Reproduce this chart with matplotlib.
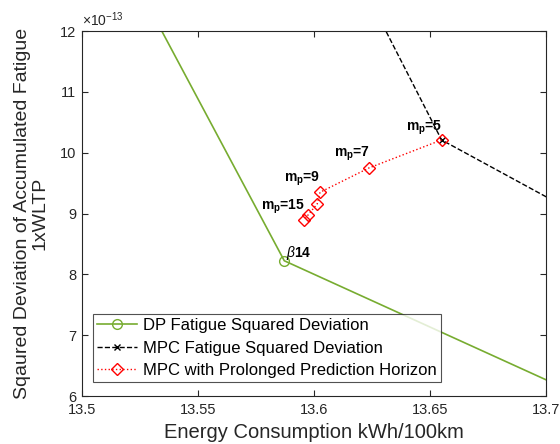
import matplotlib
matplotlib.use("Agg")
import matplotlib.pyplot as plt
import numpy as np

plt.rcParams['font.family'] = ['Liberation Sans', 'DejaVu Sans']
plt.rcParams['mathtext.fontset'] = 'custom'
plt.rcParams['mathtext.rm'] = 'Liberation Sans'
plt.rcParams['mathtext.it'] = 'Liberation Sans:italic'
plt.rcParams['mathtext.bf'] = 'Liberation Sans:bold'

# values in units of 1e-13
# DP fatigue squared deviation
dp_x = [13.52, 13.5872, 13.75]
dp_y = [13.03, 8.224, 5.40]
# MPC fatigue squared deviation
mpc_x = [13.62, 13.655, 13.75]
mpc_y = [12.82, 10.21, 8.24]
# MPC with prolonged prediction horizon (mp = 5, 7, 9, 11, 13, 15)
pro_x = [13.655, 13.6237, 13.6026, 13.6014, 13.5975, 13.5957]
pro_y = [10.21, 9.75, 9.35, 9.16, 8.98, 8.89]
labels = [r'$\mathbf{m_p}$=5', r'$\mathbf{m_p}$=7', r'$\mathbf{m_p}$=9', r'$\mathbf{m_p}$=15']
ytick_vals = [6, 7, 8, 9, 10, 11, 12]
xtick_vals = [13.5, 13.55, 13.6, 13.65, 13.7]
xtick_labels = ['13.5', '13.55', '13.6', '13.65', '13.7']

fig = plt.figure(figsize=(5.6, 4.44), dpi=100)
ax = fig.add_axes([0.1464, 0.108, 0.8286, 0.822])

green = '#77AC30'
ax.plot(dp_x, dp_y, '-o', color=green, lw=1.2, ms=7,
        mfc='none', mew=1.0, label='DP Fatigue Squared Deviation')
ax.plot(mpc_x, mpc_y, '--x', color='black', lw=1.0, ms=5,
        mew=1.0, label='MPC Fatigue Squared Deviation')
ax.plot(pro_x, pro_y, ':D', color='red', lw=1.0, ms=6,
        mfc='none', mew=1.0, label='MPC with Prolonged Prediction Horizon')

lab_pos = [(13.6395, 10.37), (13.6086, 9.93), (13.5872, 9.52), (13.5770, 9.06)]
for (tx, ty), s in zip(lab_pos, labels):
    ax.text(tx, ty, s, fontsize=10, fontweight='bold', ha='left', va='baseline')
ax.text(13.5879, 8.29, r'$\beta$14', fontsize=10, fontweight='bold', ha='left', va='baseline')

ax.set_xlim(13.5, 13.7)
ax.set_ylim(6, 12)
ax.set_xticks(xtick_vals)
ax.set_xticklabels(xtick_labels)
ax.set_yticks(ytick_vals)
ax.set_yticklabels([str(v) for v in ytick_vals])
ax.text(0.0, 1.005, r'$\times\mathregular{10^{-13}}$', transform=ax.transAxes,
        fontsize=10, color='#262626', ha='left', va='bottom')

ax.tick_params(direction='in', top=True, right=True, labelsize=10.5, colors='#262626', length=4)
ax.tick_params(axis='y', pad=4)
ax.tick_params(axis='x', pad=5)
for sp in ax.spines.values():
    sp.set_color('#262626')
    sp.set_linewidth(0.8)

ax.set_xlabel('Energy Consumption kWh/100km', fontsize=14.5, color='#262626', labelpad=4)
ax.set_ylabel('Sqaured Deviation of Accumulated Fatigue\n1xWLTP', fontsize=14, color='#262626',
              labelpad=8, linespacing=1.1)

leg = ax.legend(loc='lower left', fontsize=12, frameon=True, fancybox=False,
                edgecolor='#262626', borderpad=0.25, labelspacing=0.45, handlelength=2.4,
                handletextpad=0.35, borderaxespad=0.0, bbox_to_anchor=(0.024, 0.038))
leg.get_frame().set_linewidth(0.8)

fig.savefig('out.png', dpi=100)
